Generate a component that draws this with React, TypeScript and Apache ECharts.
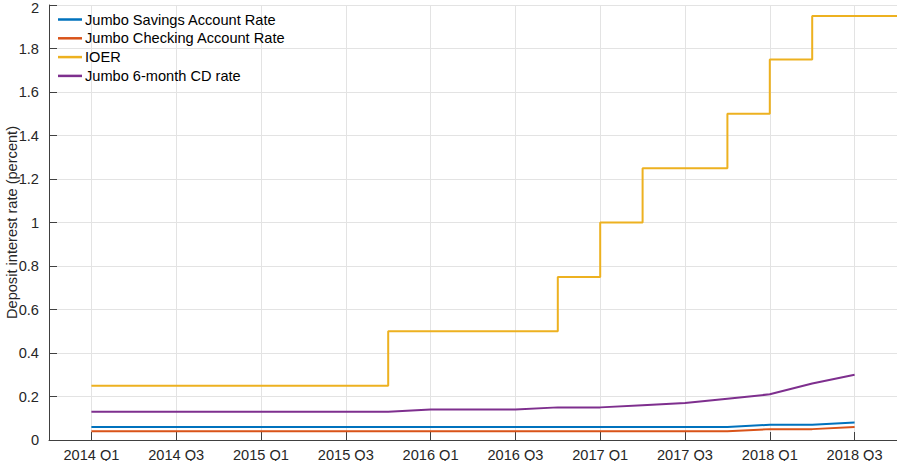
import React, { useEffect, useRef } from "react";
import * as echarts from "echarts";

const quarters = [
  "", "2014 Q1", "2014 Q2", "2014 Q3", "2014 Q4", "2015 Q1", "2015 Q2", "2015 Q3", "2015 Q4",
  "2016 Q1", "2016 Q2", "2016 Q3", "2016 Q4", "2017 Q1", "2017 Q2", "2017 Q3", "2017 Q4",
  "2018 Q1", "2018 Q2", "2018 Q3", "",
];

const savingsRate = [null, 0.06, 0.06, 0.06, 0.06, 0.06, 0.06, 0.06, 0.06, 0.06, 0.06, 0.06, 0.06, 0.06, 0.06, 0.06, 0.06, 0.07, 0.07, 0.08, null];
const checkingRate = [null, 0.04, 0.04, 0.04, 0.04, 0.04, 0.04, 0.04, 0.04, 0.04, 0.04, 0.04, 0.04, 0.04, 0.04, 0.04, 0.04, 0.05, 0.05, 0.06, null];
const ioer = [null, 0.25, 0.25, 0.25, 0.25, 0.25, 0.25, 0.25, 0.5, 0.5, 0.5, 0.5, 0.75, 1.0, 1.25, 1.25, 1.5, 1.75, 1.95, 1.95, null];
const cdRate = [null, 0.13, 0.13, 0.13, 0.13, 0.13, 0.13, 0.13, 0.13, 0.14, 0.14, 0.14, 0.15, 0.15, 0.16, 0.17, 0.19, 0.21, 0.26, 0.30, null];

const seriesNames = [
  "Jumbo Savings Account Rate",
  "Jumbo Checking Account Rate",
  "IOER",
  "Jumbo 6-month CD rate",
];
const colors = ["#0072BD", "#D95319", "#EDB120", "#7E2F8E"];

const FONT = "'Liberation Sans', Arial, Helvetica, sans-serif";
const TEXT = "#262626";
const FS = 14.6;

const isLabeled = (i: number) => i >= 1 && i <= 19 && (i - 1) % 2 === 0;

export default function App() {
  const ref = useRef<HTMLDivElement>(null);
  useEffect(() => {
    if (!ref.current) return;
    const chart = echarts.init(ref.current, undefined, { renderer: "svg" });
    const datasets = [savingsRate, checkingRate, ioer, cdRate];
    chart.setOption({
      animation: false,
      textStyle: { fontFamily: FONT },
      grid: { left: 49, right: 0, top: 5, bottom: 21, containLabel: false, outerBoundsMode: "none" },
      legend: {
        orient: "vertical",
        left: 58,
        top: 12,
        padding: 0,
        itemWidth: 24,
        itemHeight: 2.5,
        itemGap: 3.8,
        icon: "rect",
        data: seriesNames,
        textStyle: { fontSize: FS, color: "#000", fontFamily: FONT, lineHeight: 14.6, padding: [0, 0, 0, -2] },
      },
      xAxis: {
        type: "category",
        data: quarters,
        boundaryGap: false,
        axisLine: { lineStyle: { color: "#404040", width: 1 } },
        axisTick: { inside: true, length: 8, interval: (i: number) => isLabeled(i), lineStyle: { color: "#404040" } },
        axisLabel: {
          interval: (i: number) => isLabeled(i),
          fontSize: FS,
          color: TEXT,
          margin: 7,
          fontFamily: FONT,
        },
        splitLine: {
          show: true,
          interval: (i: number) => isLabeled(i),
          lineStyle: { color: "#e3e3e3", width: 1 },
        },
      },
      yAxis: {
        type: "value",
        min: 0,
        max: 2,
        interval: 0.2,
        name: "Deposit interest rate (percent)",
        nameLocation: "middle",
        nameGap: 30,
        nameMoveOverlap: false,
        nameTextStyle: { fontSize: FS, color: TEXT, fontFamily: FONT },
        axisLine: { show: true, lineStyle: { color: "#404040", width: 1 } },
        axisTick: { show: true, inside: true, length: 8, lineStyle: { color: "#404040" } },
        axisLabel: {
          fontSize: FS,
          color: TEXT,
          margin: 10,
          fontFamily: FONT,
          formatter: (v: number) => {
            const s = String(Math.round(v * 10) / 10);
            return v >= 2 ? "{t|" + s + "}" : s;
          },
          rich: {
            t: { fontSize: FS, color: TEXT, fontFamily: FONT, padding: [5, 0, 0, 0] },
          },
        },
        splitLine: { show: true, lineStyle: { color: "#e3e3e3", width: 1 } },
      },
      series: seriesNames.map((name, k) => ({
        name,
        type: "line",
        data: datasets[k],
        step: k === 2 ? "end" : undefined,
        showSymbol: false,
        symbol: "none",
        color: colors[k],
        lineStyle: { color: colors[k], width: 2 },
        z: k === 2 ? 2 : 3,
      })),
    });
    return () => chart.dispose();
  }, []);
  return <div ref={ref} style={{ width: 897, height: 461, position: "absolute", left: 0, top: 0 }} />;
}
